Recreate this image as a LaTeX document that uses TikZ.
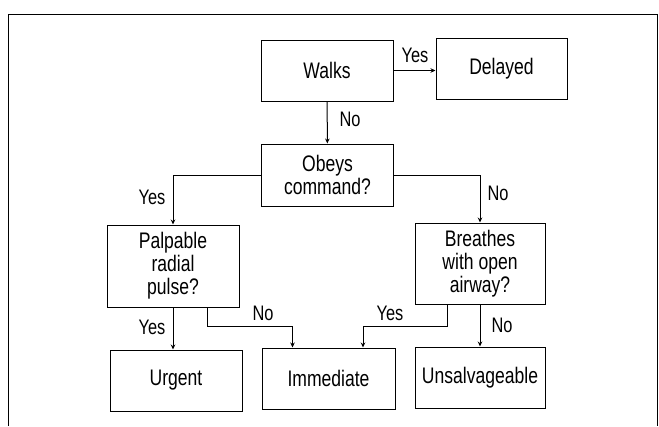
\documentclass[tikz,border=0pt]{standalone}
\usepackage{fontspec}
\setmainfont[FakeStretch=0.78]{Liberation Sans}
\usetikzlibrary{arrows.meta, positioning}

\begin{document}
\begin{tikzpicture}[
  x=1pt, y=-1pt, line width=1pt,
  every node/.style={font=\fontsize{22.5}{23}\selectfont},
  triage/.style={rectangle, draw=black, minimum width=132pt, minimum height=61pt, inner sep=2pt, align=center},
  askbox/.style={triage, minimum height=82pt},
  lbl/.style={font=\fontsize{21}{22}\selectfont},
  arr/.style={-{Stealth[length=5pt, width=4.5pt]}},
]
\useasboundingbox (0,0) rectangle (659,426);
\draw (8,426) -- (8,14) -- (657,14) -- (657,426);
\node[triage] (walk) at (327,70.5) {Walks};
\node[triage, minimum width=131pt] (dly) at (501.5,68.5) {Delayed};
\node[triage, minimum height=62pt] (obey) at (327.5,175) {Obeys\\command?};
\node[askbox] (pulse) at (173,266) {Palpable\\radial\\pulse?};
\node[askbox, minimum width=130pt, minimum height=81pt] (brth) at (480,263.5) {Breathes\\with open\\airway?};
\node[triage] (urg) at (176,380.5) {Urgent};
\node[triage, minimum width=133pt] (imm) at (328.5,378.5) {Immediate};
\node[triage, minimum width=130pt] (uns) at (480,377.5) {Unsalvageable};
\draw[arr] (walk.east) -- (walk.east -| dly.west);
\draw[arr] (walk) -- (obey);
\draw[arr] (obey.west) -| (pulse.north);
\draw[arr] (obey.east) -| (brth.north);
\draw[arr] (pulse.south) -- (pulse.south |- urg.north);
\draw[arr] ([xshift=34pt]pulse.south) -- ++(0,19) -| ([xshift=-36pt]imm.north);
\draw[arr] ([xshift=-33pt]brth.south) -- ++(0,22) -| ([xshift=34.5pt]imm.north);
\draw[arr] (brth) -- (uns);
\node[lbl] (y1) at (415,55) {Yes};
\node[lbl] (n1) at (350,119) {No};
\node[lbl] (y2) at (152,197) {Yes};
\node[lbl] (n2) at (498,193) {No};
\node[lbl] (y3) at (152,327) {Yes};
\node[lbl] (n3) at (263,313) {No};
\node[lbl] (y4) at (390,313) {Yes};
\node[lbl] (n4) at (502,325) {No};
\end{tikzpicture}
\end{document}
